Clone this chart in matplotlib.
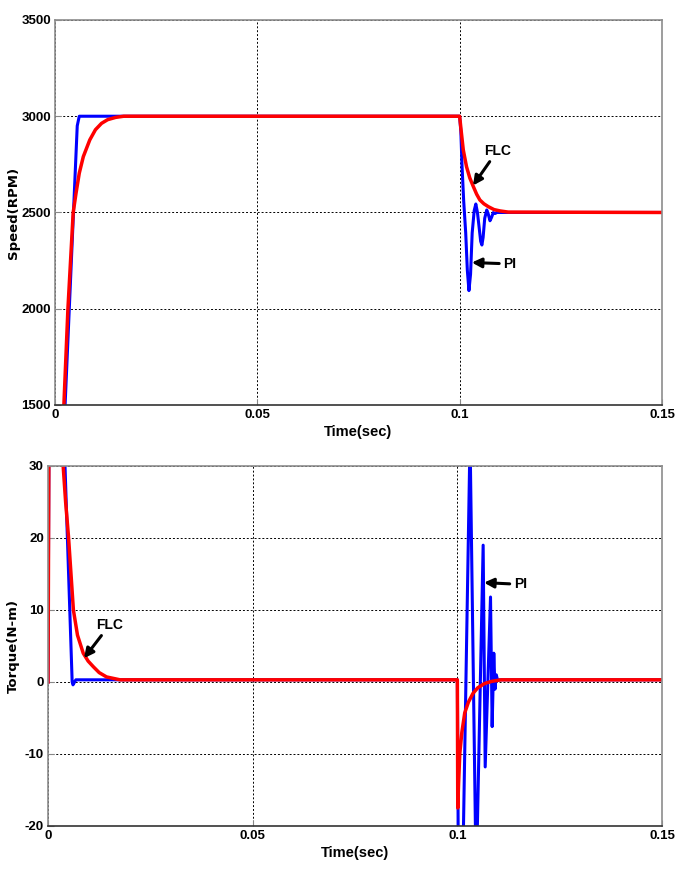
import numpy as np
import matplotlib.pyplot as plt

plt.rcParams['axes.unicode_minus'] = False

# speed response (RPM)
t_spd_pi = [0, 0.0025, 0.0055, 0.006, 0.1, 0.1003, 0.1006, 0.1010, 0.1015, 0.1019,
            0.1023, 0.1027, 0.1031, 0.1036, 0.1040, 0.1044, 0.1048, 0.1052, 0.1055,
            0.1058, 0.1062, 0.1067, 0.1071, 0.1075, 0.1079, 0.1083, 0.1088, 0.1092, 0.15]
spd_pi = [0, 1500, 2950, 3000, 3000, 2920, 2738, 2560, 2394, 2200,
          2094, 2180, 2394, 2510, 2544, 2500, 2426, 2350, 2331,
          2370, 2470, 2513, 2490, 2457, 2475, 2499, 2495, 2500, 2500]

t_spd_flc = [0, 0.0022, 0.0032, 0.0045, 0.0052, 0.006, 0.007, 0.0086, 0.010, 0.0115,
             0.013, 0.015, 0.017, 0.1, 0.1004, 0.1009, 0.1017, 0.1025, 0.1034, 0.1042,
             0.1050, 0.106, 0.1071, 0.1085, 0.11, 0.112, 0.15]
spd_flc = [0, 1500, 2000, 2500, 2600, 2704, 2790, 2877, 2930, 2963,
           2982, 2994, 3000, 3000, 2920, 2825, 2738, 2680, 2634, 2595,
           2565, 2545, 2530, 2515, 2508, 2502, 2500]

# torque response (N-m)
t_trq_pi = [0, 0.0003, 0.0035, 0.00415, 0.0059, 0.0061, 0.0068, 0.1, 0.1003, 0.1012,
            0.1031, 0.1046, 0.1063, 0.1068, 0.1081, 0.1085, 0.1089, 0.1092, 0.1095, 0.1098, 0.15]
trq_pi = [0, 45, 45, 30, 0, -0.4, 0.3, 0.3, -32, -30,
          34, -28, 19, -11.8, 11.8, -6.2, 4, -1, 1, 0.3, 0.3]

t_trq_flc = [0, 0.0003, 0.0030, 0.0037, 0.0043, 0.0050, 0.0062, 0.0072, 0.0086, 0.0098,
             0.0111, 0.0125, 0.0143, 0.0176, 0.1, 0.1001, 0.1003, 0.1006, 0.1011, 0.1018,
             0.1027, 0.1038, 0.1050, 0.1067, 0.1085, 0.1107, 0.15]
trq_flc = [0, 45, 45, 30, 25, 20.2, 10, 6.5, 4, 2.9,
           2.1, 1.3, 0.7, 0.3, 0.3, -17.5, -14, -9.9, -7, -4.3,
           -2.8, -1.6, -0.8, -0.2, 0.1, 0.3, 0.3]

tickfont = 'Liberation Sans'

fig = plt.figure(figsize=(6.83, 8.69), dpi=100)
ax1 = fig.add_axes([0.0805, 0.534, 0.8887, 0.443])
ax2 = fig.add_axes([0.0703, 0.0495, 0.899, 0.4143])


def style(ax, xt, yt):
    ax.set_xticks(xt)
    ax.set_yticks(yt)
    ax.grid(True, color='black', linestyle=(0, (2, 2)), linewidth=0.7)
    ax.tick_params(direction='in', length=4, color='#888888', pad=3)
    for lab in ax.get_xticklabels() + ax.get_yticklabels():
        lab.set_family(tickfont)
        lab.set_fontweight('bold')
        lab.set_fontsize(9.5)
    for s in ['top', 'right', 'left']:
        ax.spines[s].set_color('#8c8c8c')
        ax.spines[s].set_linewidth(1.2)
    ax.spines['bottom'].set_color('#333333')
    ax.spines['bottom'].set_linewidth(1.2)


xt = [0, 0.05, 0.1, 0.15]
xtl = ['0', '0.05', '0.1', '0.15']
arrow = dict(arrowstyle='-|>', color='black', lw=2.2, mutation_scale=14, shrinkA=1, shrinkB=0)

# top: speed
ax1.plot(t_spd_pi, spd_pi, color='blue', lw=2.2)
ax1.plot(t_spd_flc, spd_flc, color='red', lw=2.5)
ax1.set_xlim(0, 0.15)
ax1.set_ylim(1500, 3500)
style(ax1, xt, [1500, 2000, 2500, 3000, 3500])
ax1.set_xticklabels(xtl, family=tickfont, fontweight='bold', fontsize=9.5)
ax1.set_xlabel('Time(sec)', family=tickfont, fontweight='bold', fontsize=10.5, labelpad=3)
ax1.set_ylabel('Speed(RPM)', fontweight='bold', fontsize=9.5)
ax1.yaxis.set_label_coords(-0.058, 0.5)
ax1.annotate('FLC', xy=(0.1033, 2640), xytext=(0.1060, 2800),
             family=tickfont, fontweight='bold', fontsize=10, arrowprops=arrow)
ax1.annotate('PI', xy=(0.1030, 2240), xytext=(0.1108, 2212),
             family=tickfont, fontweight='bold', fontsize=10, arrowprops=arrow)

# bottom: torque
ax2.plot(t_trq_pi, trq_pi, color='blue', lw=2.2)
ax2.plot(t_trq_flc, trq_flc, color='red', lw=2.5)
ax2.set_xlim(0, 0.15)
ax2.set_ylim(-20, 30)
style(ax2, xt, [-20, -10, 0, 10, 20, 30])
ax2.set_xticklabels(xtl, family=tickfont, fontweight='bold', fontsize=9.5)
ax2.set_xlabel('Time(sec)', family=tickfont, fontweight='bold', fontsize=10.5, labelpad=3)
ax2.set_ylabel('Torque(N-m)', fontweight='bold', fontsize=9.5)
ax2.yaxis.set_label_coords(-0.046, 0.5)
ax2.annotate('FLC', xy=(0.0088, 3.3), xytext=(0.0118, 7.4),
             family=tickfont, fontweight='bold', fontsize=10, arrowprops=arrow)
ax2.annotate('PI', xy=(0.1065, 13.8), xytext=(0.1138, 13.0),
             family=tickfont, fontweight='bold', fontsize=10, arrowprops=arrow)

fig.savefig('out.png', dpi=100)
